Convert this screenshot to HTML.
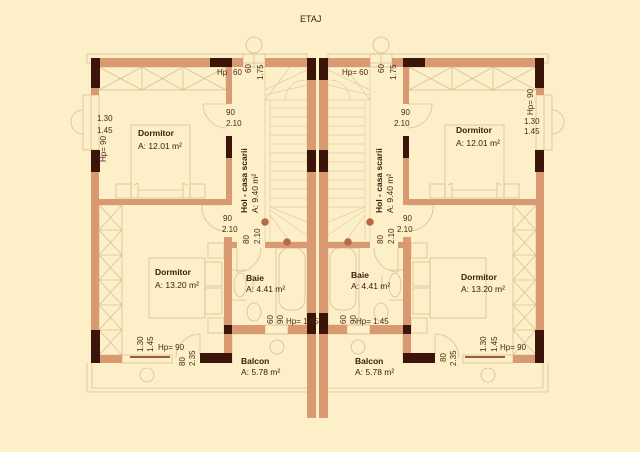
<!DOCTYPE html>
<html><head><meta charset="utf-8"><style>
html,body{margin:0;padding:0;background:#fdf0c9;}
svg{display:block}
text{font-family:"Liberation Sans",sans-serif;fill:#3a1a0a;font-size:8.5px}
.b{font-weight:bold}
.d{fill:#4a2a14;font-size:8px}
</style></head><body>
<svg width="640" height="452" viewBox="0 0 640 452" xmlns="http://www.w3.org/2000/svg">
<rect width="640" height="452" fill="#fdf0c9"/>
<defs>
<g id="half">
 <g fill="none" stroke="#d8bf96" stroke-width="0.8">
  <rect x="87" y="54" width="220" height="9"/>
  <path d="M87,363 V392 H307 M92,363 V388 H307"/>
  <path d="M232,363 V334 H307"/>
  <rect x="243" y="54" width="22" height="13"/>
  <line x1="254" y1="54" x2="254" y2="67"/>
  <circle cx="254" cy="45" r="8"/>
  <rect x="83" y="95" width="16" height="55"/>
  <line x1="91" y1="95" x2="91" y2="150"/>
  <path d="M83,110 A12,12 0 0 0 83,134"/>
  <rect x="122" y="355" width="50" height="8"/>
  <circle cx="147" cy="375" r="7"/>
  <rect x="265" y="325" width="23" height="9"/>
  <circle cx="277" cy="347" r="7"/>
  <rect x="99" y="67" width="127" height="23"/>
  <path d="M142,67 V90 M183,67 V90 M99,67 L142,90 M142,67 L99,90 M142,67 L183,90 M183,67 L142,90 M183,67 L226,90 M226,67 L183,90"/>
  <rect x="99" y="205" width="23" height="150"/>
  <path d="M99,205 L122,230 L99,255 L122,280 L99,305 L122,330 L99,355 M122,205 L99,230 L122,255 L99,280 L122,305 L99,330 L122,355 M99,230 H122 M99,255 H122 M99,280 H122 M99,305 H122 M99,330 H122"/>
  <rect x="131" y="125" width="59" height="73"/>
  <path d="M134,185 L138,183 L138,198 M187,185 L183,183 L183,198 M138,190 H183"/>
  <rect x="116" y="184" width="15" height="14"/>
  <rect x="190" y="184" width="15" height="14"/>
  <rect x="149" y="258" width="56" height="60"/>
  <rect x="205" y="262" width="17" height="24"/><rect x="205" y="288" width="17" height="26"/>
  <rect x="208" y="243" width="16" height="15"/><rect x="208" y="318" width="16" height="15"/>
  <path d="M227,104 L203,104 A24,24 0 0 0 227,128"/>
  <path d="M226,205 L202,205 A24,24 0 0 0 226,231"/>
  <path d="M237,248 V272 A24,24 0 0 0 261,248"/>
  <path d="M200,334 V355 M200,334 A24,24 0 0 0 176,358"/>
  <rect x="279" y="248" width="26" height="62" rx="10"/>
  <rect x="276" y="248" width="31" height="77"/>
  <ellipse cx="240" cy="285" rx="6" ry="12"/>
  <line x1="232" y1="270" x2="246" y2="270"/><line x1="232" y1="300" x2="246" y2="300"/>
  <ellipse cx="254" cy="312" rx="7" ry="9"/>
  <line x1="253" y1="275" x2="253" y2="290"/>
 </g>
 <g fill="none" stroke="#e2cca4" stroke-width="0.7">
  <rect x="265" y="67" width="42" height="175"/>
  <path d="M265,100 H307 M270,108 H307 M270,117 H307 M270,126 H307 M270,135 H307 M270,144 H307 M270,153 H307 M270,162 H307 M270,171 H307 M270,180 H307 M270,189 H307 M270,198 H307 M270,207 H307"/>
  <path d="M270,100 V242 M265,90 L307,70 M265,95 L307,85 M265,100 L290,67 M270,210 L307,235 M270,215 L290,242 M270,207 L307,222 M285,100 A20,20 0 0 1 305,80"/>
 </g>
 <g fill="#d99a72">
  <rect x="91" y="58" width="152" height="9"/>
  <rect x="265" y="58" width="42" height="9"/>
  <rect x="91" y="58" width="8" height="37"/>
  <rect x="91" y="150" width="8" height="213"/>
  <rect x="226" y="58" width="6" height="46"/>
  <rect x="226" y="136" width="6" height="69"/>
  <rect x="99" y="199" width="133" height="6"/>
  <rect x="224" y="237" width="8" height="126"/>
  <rect x="224" y="242" width="13" height="6"/>
  <rect x="265" y="242" width="42" height="6"/>
  <rect x="224" y="325" width="41" height="9"/>
  <rect x="288" y="325" width="19" height="9"/>
  <rect x="91" y="355" width="31" height="8"/>
  <rect x="307" y="58" width="9" height="360"/>
 </g>
 <rect x="130" y="356" width="40" height="2" fill="#a0583a"/>
 <g fill="#3b140a">
  <rect x="91" y="58" width="9" height="30"/>
  <rect x="210" y="58" width="22" height="9"/>
  <rect x="91" y="150" width="9" height="22"/>
  <rect x="226" y="136" width="6" height="22"/>
  <rect x="91" y="330" width="9" height="33"/>
  <rect x="200" y="353" width="32" height="10"/>
  <rect x="224" y="325" width="8" height="9"/>
  <rect x="307" y="58" width="9" height="22"/>
  <rect x="307" y="150" width="9" height="22"/>
  <rect x="307" y="313" width="9" height="21"/>
 </g>
 <g fill="#b86a48">
  <circle cx="265" cy="222" r="3.8"/>
  <circle cx="287" cy="242" r="3.8"/>
 </g>
</g>
</defs>
<use href="#half"/>
<use href="#half" transform="matrix(-1 0 0 1 635 0)"/>

<text x="300" y="22" style="font-size:9px">ETAJ</text>

<text class="b" x="138" y="136">Dormitor</text>
<text x="138" y="149">A: 12.01 m²</text>
<text class="b" x="155" y="275">Dormitor</text>
<text x="155" y="288">A: 13.20 m²</text>
<text class="b" x="246" y="281">Baie</text>
<text x="246" y="292">A: 4.41 m²</text>
<text class="b" x="241" y="364">Balcon</text>
<text x="241" y="375">A: 5.78 m²</text>
<text class="b" transform="translate(247,213) rotate(-90)">Hol - casa scarii</text>
<text transform="translate(258,213) rotate(-90)">A: 9.40 m²</text>
<text class="d" x="217" y="75">Hp</text><text class="d" x="233" y="75">60</text>
<text class="d" transform="translate(251,73) rotate(-90)">60</text>
<text class="d" transform="translate(263,80) rotate(-90)">1.75</text>
<text class="d" x="226" y="115">90</text><text class="d" x="226" y="126">2.10</text>
<text class="d" x="97" y="121">1.30</text><text class="d" x="97" y="133">1.45</text>
<text class="d" transform="translate(106,162) rotate(-90)">Hp= 90</text>
<text class="d" x="223" y="221">90</text><text class="d" x="222" y="232">2.10</text>
<text class="d" transform="translate(249,244) rotate(-90)">80</text>
<text class="d" transform="translate(260,244) rotate(-90)">2.10</text>
<text class="d" transform="translate(273,324) rotate(-90)">60</text>
<text class="d" transform="translate(283,324) rotate(-90)">90</text>
<text class="d" x="286" y="324">Hp= 1.45</text>
<text class="d" transform="translate(143,352) rotate(-90)">1.30</text>
<text class="d" transform="translate(153,352) rotate(-90)">1.45</text>
<text class="d" x="158" y="350">Hp= 90</text>
<text class="d" transform="translate(185,366) rotate(-90)">80</text>
<text class="d" transform="translate(195,366) rotate(-90)">2.35</text>

<text class="b" x="456" y="133">Dormitor</text>
<text x="456" y="146">A: 12.01 m²</text>
<text class="b" x="461" y="280">Dormitor</text>
<text x="461" y="292">A: 13.20 m²</text>
<text class="b" x="351" y="278">Baie</text>
<text x="351" y="289">A: 4.41 m²</text>
<text class="b" x="355" y="364">Balcon</text>
<text x="355" y="375">A: 5.78 m²</text>
<text class="b" transform="translate(382,213) rotate(-90)">Hol - casa scarii</text>
<text transform="translate(393,213) rotate(-90)">A: 9.40 m²</text>
<text class="d" x="342" y="75">Hp= 60</text>
<text class="d" transform="translate(384,73) rotate(-90)">60</text>
<text class="d" transform="translate(396,80) rotate(-90)">1.75</text>
<text class="d" x="401" y="115">90</text><text class="d" x="394" y="126">2.10</text>
<text class="d" x="524" y="124">1.30</text><text class="d" x="524" y="134">1.45</text>
<text class="d" transform="translate(533,115) rotate(-90)">Hp= 90</text>
<text class="d" x="403" y="221">90</text><text class="d" x="397" y="232">2.10</text>
<text class="d" transform="translate(383,244) rotate(-90)">80</text>
<text class="d" transform="translate(394,244) rotate(-90)">2.10</text>
<text class="d" transform="translate(346,324) rotate(-90)">60</text>
<text class="d" transform="translate(356,324) rotate(-90)">90</text>
<text class="d" x="356" y="324">Hp= 1.45</text>
<text class="d" transform="translate(486,352) rotate(-90)">1.30</text>
<text class="d" transform="translate(497,352) rotate(-90)">1.45</text>
<text class="d" x="500" y="350">Hp= 90</text>
<text class="d" transform="translate(446,362) rotate(-90)">80</text>
<text class="d" transform="translate(456,366) rotate(-90)">2.35</text>
</svg>
</body></html>
